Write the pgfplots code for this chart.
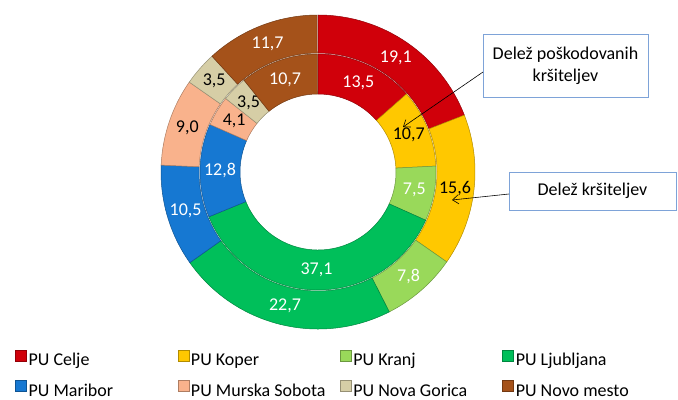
\documentclass[border=0pt]{standalone}
\usepackage{pgfplots}
\usepackage{pgfplotstable}
\pgfplotsset{compat=1.18}
\usepackage{fontspec}
\setmainfont{Carlito}
\usetikzlibrary{arrows.meta}
\definecolor{cCelje}{HTML}{D0000A}
\definecolor{cKoper}{HTML}{FFC800}
\definecolor{cKranj}{HTML}{99D95A}
\definecolor{cLjub}{HTML}{00BF5A}
\definecolor{cMaribor}{HTML}{1678D2}
\definecolor{cMurska}{HTML}{F9B28C}
\definecolor{cNovaG}{HTML}{D6CEA6}
\definecolor{cNovoM}{HTML}{A5521A}
\definecolor{boxblue}{HTML}{7EA3D8}

% shares in percent: inner ring = Delez poskodovanih krsiteljev, outer ring = Delez krsiteljev
\pgfplotstableread{
idx inner outer color txt
0 13.5 19.1 cCelje white
1 10.7 15.6 cKoper black
2 7.5 7.8 cKranj white
3 37.1 22.7 cLjub white
4 12.8 10.5 cMaribor white
5 4.1 9.0 cMurska black
6 3.5 3.5 cNovaG black
7 10.7 11.7 cNovoM white
}\data

\newcommand\lblfont{\fontsize{18bp}{22bp}\selectfont}

% #1 column, #2 inner radius, #3 outer radius
\newcommand\ring[3]{%
  \xdef\cum{0}%
  \foreach \i in {0,...,7}{%
    \pgfplotstablegetelem{\i}{#1}\of\data \let\v\pgfplotsretval
    \pgfplotstablegetelem{\i}{color}\of\data \let\col\pgfplotsretval
    \pgfplotstablegetelem{\i}{txt}\of\data \let\tcol\pgfplotsretval
    \pgfmathsetmacro\aS{90-3.6*\cum}%
    \pgfmathsetmacro\aE{90-3.6*(\cum+\v)}%
    \pgfmathsetmacro\aM{(\aS+\aE)/2}%
    \pgfmathsetmacro\dr{#2-#3}%
    \pgfmathsetmacro\rm{(#2+#3)/2}%
    \fill[fill=\col, draw=\col!70!black, line width=0.5pt]
      (axis cs:318,228) ++(\aS:#3bp) arc[start angle=\aS, end angle=\aE, radius=#3bp]
      -- ++(\aE:\dr bp) arc[start angle=\aE, end angle=\aS, radius=#2bp] -- cycle;
    \path (axis cs:318,228) ++(\aM:\rm bp) node[text=\tcol, font=\lblfont]
      {\pgfmathprintnumber[fixed, fixed zerofill, precision=1, use comma, assume math mode=true]{\v}};
    \pgfmathsetmacro\newcum{\cum+\v}%
    \xdef\cum{\newcum}%
  }%
}

\begin{document}
\begin{tikzpicture}
\begin{axis}[
  width=678bp, height=400bp, scale only axis,
  xmin=0, xmax=678, ymin=0, ymax=400,
  hide axis, clip=false,
  legend columns=4,
  legend style={at={(axis cs:15,50)}, anchor=north west, draw=none, fill=none,
    font=\lblfont, row sep=12.5bp, column sep=0bp, inner sep=0pt,
    nodes={inner sep=0pt, text height=13bp, text depth=2bp}},
  legend cell align=left,
  legend image code/.code={\draw[#1, line width=0.4pt] (0bp,-1bp) rectangle (11bp,10bp);},
]
\addlegendimage{fill=cCelje, draw=cCelje!70!black}
\addlegendentry{\makebox[151bp][l]{\hspace{2bp}PU Celje}}
\addlegendimage{fill=cKoper, draw=cKoper!70!black}
\addlegendentry{\makebox[151bp][l]{\hspace{2bp}PU Koper}}
\addlegendimage{fill=cKranj, draw=cKranj!70!black}
\addlegendentry{\makebox[151bp][l]{\hspace{2bp}PU Kranj}}
\addlegendimage{fill=cLjub, draw=cLjub!70!black}
\addlegendentry{\makebox[151bp][l]{\hspace{2bp}PU Ljubljana}}
\addlegendimage{fill=cMaribor, draw=cMaribor!70!black}
\addlegendentry{\makebox[151bp][l]{\hspace{2bp}PU Maribor}}
\addlegendimage{fill=cMurska, draw=cMurska!70!black}
\addlegendentry{\makebox[151bp][l]{\hspace{2bp}PU Murska Sobota}}
\addlegendimage{fill=cNovaG, draw=cNovaG!70!black}
\addlegendentry{\makebox[151bp][l]{\hspace{2bp}PU Nova Gorica}}
\addlegendimage{fill=cNovoM, draw=cNovoM!70!black}
\addlegendentry{\makebox[151bp][l]{\hspace{2bp}PU Novo mesto}}

\pgfplotsextra{%
  \ring{outer}{119}{157}%
  \ring{inner}{78}{118}%
  \draw[boxblue, line width=0.8pt, fill=white] (axis cs:483,303) rectangle (axis cs:648,366);
  \node[align=center, font=\lblfont] at (axis cs:565.5,334.5) {Delež poškodovanih\\kršiteljev};
  \draw[boxblue, line width=0.8pt, fill=white] (axis cs:509,190) rectangle (axis cs:676,228);
  \node[font=\lblfont] at (axis cs:592.5,209) {Delež kršiteljev};
  \draw[-{Straight Barb[length=6bp,width=9bp]}, line width=0.6pt] (axis cs:483,328) -- (axis cs:403,273);
  \draw[-{Straight Barb[length=6bp,width=9bp]}, line width=0.6pt] (axis cs:509,206) -- (axis cs:452,200);
}
\end{axis}
\pgfresetboundingbox
\useasboundingbox (0,0) rectangle (678bp,400bp);
\end{tikzpicture}
\end{document}
